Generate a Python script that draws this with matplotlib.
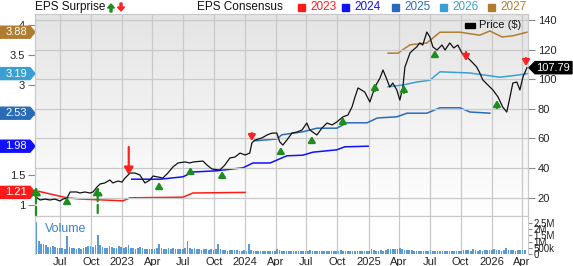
import numpy as np
import pandas as pd
import matplotlib
matplotlib.use("Agg")
import matplotlib.pyplot as plt
import matplotlib.dates as mdates
from matplotlib.patches import Polygon, Rectangle, FancyArrow
from matplotlib.colors import LinearSegmentedColormap
from matplotlib.transforms import blended_transform_factory

plt.rcParams["font.family"] = ["Liberation Sans", "DejaVu Sans"]

# price line ($)
price_dates = ["2022-04-21", "2022-05-03", "2022-05-18", "2022-06-01", "2022-06-16", "2022-07-01",
               "2022-07-10", "2022-07-22", "2022-07-31", "2022-08-20", "2022-08-29", "2022-09-13",
               "2022-09-28", "2022-10-07", "2022-10-19", "2022-10-28", "2022-11-11", "2022-11-26",
               "2022-12-05", "2022-12-20", "2023-01-01", "2023-01-10", "2023-01-25", "2023-02-08",
               "2023-02-23", "2023-03-10", "2023-03-25", "2023-04-03", "2023-04-18", "2023-05-02",
               "2023-05-17", "2023-06-01", "2023-06-16", "2023-07-07", "2023-07-21", "2023-08-01",
               "2023-08-29", "2023-09-10", "2023-09-25", "2023-10-18", "2023-11-02", "2023-11-17",
               "2023-12-02", "2023-12-17", "2024-01-01", "2024-01-15", "2024-01-21", "2024-01-30",
               "2024-02-20", "2024-03-06", "2024-03-21", "2024-04-04", "2024-04-13", "2024-04-22",
               "2024-05-04", "2024-05-19", "2024-06-03", "2024-06-18", "2024-07-02", "2024-07-11",
               "2024-08-01", "2024-08-16", "2024-08-31", "2024-09-15", "2024-09-29", "2024-10-17",
               "2024-11-01", "2024-11-13", "2024-11-22", "2024-12-01", "2024-12-21", "2025-01-05",
               "2025-01-20", "2025-02-04", "2025-02-13", "2025-02-25", "2025-03-05", "2025-03-14",
               "2025-03-26", "2025-04-04", "2025-04-13", "2025-04-19", "2025-05-04", "2025-05-13",
               "2025-05-24", "2025-06-02", "2025-06-11", "2025-06-23", "2025-07-02", "2025-07-11",
               "2025-07-23", "2025-08-07", "2025-08-16", "2025-08-30", "2025-09-11", "2025-09-23",
               "2025-10-05", "2025-10-20", "2025-11-04", "2025-11-18", "2025-11-27", "2025-12-06",
               "2025-12-21", "2026-01-05", "2026-01-20", "2026-02-03", "2026-02-15", "2026-02-24",
               "2026-03-05", "2026-03-17", "2026-03-26", "2026-04-04", "2026-04-16"]
price_vals = [20.4, 18.4, 19.0, 18.4, 19.0, 17.7,
              19.0, 19.7, 23.8, 23.8, 23.1, 23.8,
              23.1, 23.8, 27.2, 29.2, 29.9, 31.9,
              29.9, 31.2, 30.5, 33.2, 36.6, 36.6,
              35.3, 29.9, 31.9, 34.6, 33.9, 33.2,
              36.6, 40.7, 43.4, 44.1, 43.4, 44.1,
              44.7, 42.0, 39.3, 38.6, 42.0, 46.8,
              47.4, 50.1, 48.8, 50.1, 56.9, 58.9,
              60.3, 62.3, 63.6, 63.6, 57.6, 55.5,
              58.9, 63.6, 64.3, 65.7, 70.4, 65.7,
              62.3, 67.0, 70.4, 69.1, 71.1, 74.5,
              75.8, 81.2, 88.0, 94.1, 91.3, 84.6,
              94.7, 100.8, 106.2, 99.5, 94.7, 97.4,
              92.7, 85.9, 94.7, 108.2, 117.7, 119.7,
              121.8, 124.5, 123.1, 131.9, 128.5, 121.8,
              119.7, 123.1, 119.7, 124.5, 121.1, 123.1,
              117.7, 115.0, 111.6, 108.2, 104.2, 99.5,
              96.1, 92.7, 88.0, 81.2, 77.8, 87.3,
              97.4, 98.1, 92.7, 101.5, 107.79]

# EPS consensus per fiscal year
eps23_dates = ["2022-04-27", "2022-07-22", "2022-08-29", "2023-01-04", "2023-01-25", "2023-07-01",
               "2023-07-30", "2024-01-01"]
eps23 = [1.23, 1.12, 1.10, 1.07, 1.12, 1.13, 1.20, 1.21]
eps24_dates = ["2023-01-30", "2023-04-24", "2023-07-01", "2023-07-30", "2023-10-09", "2023-12-26",
               "2024-01-24", "2024-03-15", "2024-05-04", "2024-06-20", "2024-07-20", "2024-09-29",
               "2024-10-23", "2024-12-31"]
eps24 = [1.43, 1.43, 1.47, 1.55, 1.57, 1.62, 1.70, 1.70, 1.82, 1.83, 1.88, 1.92, 1.97, 1.98]
eps25_dates = ["2024-01-30", "2024-04-04", "2024-04-19", "2024-06-20", "2024-08-01", "2024-09-29",
               "2024-10-29", "2024-12-28", "2025-01-27", "2025-03-26", "2025-04-25", "2025-06-23",
               "2025-08-01", "2025-09-29", "2025-10-29", "2025-12-27"]
eps25 = [2.07, 2.10, 2.17, 2.22, 2.28, 2.28, 2.37, 2.37, 2.45, 2.47, 2.53, 2.53, 2.62, 2.62, 2.55, 2.53]
eps26_dates = ["2025-02-28", "2025-04-13", "2025-05-24", "2025-07-02", "2025-08-01", "2025-10-29",
               "2026-01-26", "2026-03-26", "2026-04-16"]
eps26 = [2.97, 3.00, 3.05, 3.08, 3.22, 3.20, 3.13, 3.17, 3.19]
eps27_dates = ["2025-02-28", "2025-03-29", "2025-05-04", "2025-06-23", "2025-08-01", "2025-09-29",
               "2025-11-27", "2025-12-27", "2026-02-01", "2026-03-05", "2026-04-16"]
eps27 = [3.53, 3.53, 3.67, 3.70, 3.88, 3.88, 3.83, 3.90, 3.80, 3.82, 3.88]

years = ["2023", "2024", "2025", "2026", "2027"]
year_colors = ["#ff1a1a", "#1010ff", "#2a6bb8", "#3a9fd2", "#b07c30"]

# EPS surprise arrows: price at arrow tip and at its tail
surprise_dates = ["2022-04-21", "2022-07-22", "2022-10-21", "2023-01-21", "2023-04-21", "2023-07-23",
                  "2023-10-25", "2024-01-21", "2024-04-16", "2024-07-17", "2024-10-17", "2025-01-20",
                  "2025-04-16", "2025-07-17", "2025-10-17", "2026-01-17", "2026-04-13"]
surprise_head = [27.2, 20.4, 27.2, 35.3, 30.5, 40.7, 38.0, 58.2, 54.2, 61.6, 74.5, 97.4,
                 96.1, 119.7, 112.3, 85.9, 108.9]
surprise_tail = [8.2, 16.0, 9.6, 54.2, 25.8, 36.0, 33.2, 63.6, 49.5, 56.9, 69.7, 92.0,
                 90.7, 115.0, 118.4, 80.5, 114.3]

# weekly volume (thousands)
vol_start = "2022-04-22"
volume_k = [2600, 1080, 780, 800, 690, 600, 560, 620, 580, 480,
            520, 450, 380, 1450, 560, 520, 470, 420, 480, 430, 460, 600, 640,
            640, 560, 720, 1500, 700, 580, 470, 520, 620, 560, 470, 520, 680,
            560, 500, 600, 760, 520, 480, 430, 450, 560, 500, 430, 410, 420,
            380, 400, 520, 820, 460, 380, 420, 450, 420, 460, 400, 380, 430,
            420, 450, 1020, 520, 420, 470, 380, 400, 360, 420, 390, 340, 380,
            330, 420, 780, 430, 360, 320, 280, 300, 320, 290, 300, 260, 280,
            300, 280, 800, 330, 280, 250, 260, 270, 250, 240, 230, 250, 260,
            270, 380, 330, 280, 250, 240, 230, 220, 210, 230, 220, 240, 260,
            240, 230, 300, 250, 240, 230, 220, 210, 220, 230, 250, 220, 240,
            230, 220, 330, 240, 220, 210, 230, 240, 220, 230, 260, 240, 230,
            250, 270, 400, 300, 260, 270, 290, 280, 320, 380, 400, 420, 380,
            440, 460, 410, 360, 320, 300, 290, 280, 260, 250, 240, 260, 250,
            260, 300, 280, 250, 240, 230, 250, 240, 230, 260, 250, 240, 270,
            260, 280, 360, 330, 290, 270, 380, 320, 280, 300, 260, 290, 310,
            300, 340, 420, 360, 300, 280, 320, 450, 360, 300, 320, 280, 300,
            320, 360, 300]

quarter_ticks = ["2022-07-01", "2022-10-01", "2023-01-01", "2023-04-01", "2023-07-01", "2023-10-01",
                 "2024-01-01", "2024-04-01", "2024-07-01", "2024-10-01", "2025-01-01", "2025-04-01",
                 "2025-07-01", "2025-10-01", "2026-01-01", "2026-04-01"]
quarter_labels = ["Jul", "Oct", "2023", "Apr", "Jul", "Oct", "2024", "Apr", "Jul", "Oct",
                  "2025", "Apr", "Jul", "Oct", "2026", "Apr"]

W, H = 573, 266
grid_c = "#c9c9c9"
fig = plt.figure(figsize=(W / 100, H / 100), dpi=100)
ax = fig.add_axes([35 / W, 1 - 216 / H, 493 / W, 202 / H])
axv = fig.add_axes([35 / W, 1 - 254 / H, 493 / W, 38 / H], sharex=ax)

# background gradient
cmap = LinearSegmentedColormap.from_list("bg", ["#e4e4e4", "#ffffff"])
ax.imshow(np.linspace(0, 1, 256).reshape(-1, 1), cmap=cmap, extent=[0, 1, 0, 1],
          transform=ax.transAxes, aspect="auto", zorder=0)

x0, x1 = pd.Timestamp("2022-04-18"), pd.Timestamp("2026-04-19")

eps_series = [(eps23_dates, eps23), (eps24_dates, eps24), (eps25_dates, eps25),
              (eps26_dates, eps26), (eps27_dates, eps27)]
for (d, v), c in zip(eps_series, year_colors):
    ax.plot(pd.to_datetime(d), v, color=c, lw=1.1, zorder=3)

ax.set_xlim(x0, x1)
ax.set_ylim(0.8167, 4.1833)
ax.set_yticks([1, 1.5, 2, 2.5, 3, 3.5, 4])
# 2 and 2.5 sit under the badges
ax.set_yticklabels(["1", "1.5", "", "", "3", "3.5", "4"])
ax.tick_params(axis="y", labelsize=8, colors="#888888", labelcolor="#222222", length=5, pad=2)
ax.tick_params(axis="x", labelbottom=False, length=0)
ax.set_xticks(pd.to_datetime(quarter_ticks))
ax.grid(axis="x", color=grid_c, lw=0.9)
for s in ax.spines.values():
    s.set_color(grid_c)

# price axis on the right
ax2 = ax.twinx()
ax2.plot(pd.to_datetime(price_dates), price_vals, color="#111111", lw=0.9, zorder=4)
ax2.set_ylim(7.57, 144.05)
ax2.set_yticks([20, 40, 60, 80, 100, 120, 140])
ax2.tick_params(axis="y", labelsize=8, colors="#888888", labelcolor="#222222", length=5, pad=2)
ax2.grid(axis="y", color=grid_c, lw=0.9)
ax2.set_axisbelow(True)
for s in ax2.spines.values():
    s.set_color(grid_c)

for d, hd, tl in zip(surprise_dates, surprise_head, surprise_tail):
    beat = hd > tl
    big = abs(hd - tl) > 10
    c = "#1e8c1e" if beat else "#ff2020"
    xd = mdates.date2num(pd.Timestamp(d))
    ax2.annotate("", xy=(xd, hd), xytext=(xd, tl),
                 arrowprops=dict(arrowstyle="-|>,head_length=0.5,head_width=0.3", color=c,
                                 lw=1.6, ls="--" if (big and beat) else "-",
                                 mutation_scale=9 if big else 7, shrinkA=0, shrinkB=0),
                 zorder=6)

# price legend
fig.patches.append(Rectangle((465 / W, 1 - 28 / H), 10 / W, 5 / H, transform=fig.transFigure,
                             color="black"))
fig.text(479 / W, 1 - 25.5 / H, "Price ($)", fontsize=8, va="center", color="#111111")

# badges on left
bt = blended_transform_factory(fig.transFigure, ax.transData)
for (d, v), c in zip(eps_series, year_colors):
    val = v[-1]
    pts = [(0, val - 0.1), (30 / W, val - 0.1), (35 / W, val), (30 / W, val + 0.1), (0, val + 0.1)]
    ax.add_patch(Polygon(pts, closed=True, color=c, transform=bt, clip_on=False, zorder=10))
    ax.text(16 / W, val, f"{val:.2f}", transform=bt, color="white", fontsize=8,
            ha="center", va="center", zorder=11, clip_on=False)

# price badge on right
pt = blended_transform_factory(fig.transFigure, ax2.transData)
last = price_vals[-1]
pts = [(529 / W, last), (535 / W, last - 4.1), (572 / W, last - 4.1), (572 / W, last + 4.1),
       (535 / W, last + 4.1)]
ax2.add_patch(Polygon(pts, closed=True, color="black", transform=pt, clip_on=False, zorder=10))
ax2.text(553 / W, last, f"{last:.2f}", transform=pt, color="white", fontsize=8,
         ha="center", va="center", zorder=11, clip_on=False)

# volume panel
vol_dates = pd.date_range(vol_start, periods=len(volume_k), freq="7D")
axv.bar(vol_dates, np.array(volume_k) / 1000, width=5, color="#5b9bd5", zorder=3)
axv.set_ylim(0, 3.06)
axv.yaxis.tick_right()
axv.set_yticks([0, 0.5, 1, 1.5, 2, 2.5])
axv.set_yticklabels(["0", "500k", "1M", "1.5M", "2M", "2.5M"])
axv.tick_params(axis="y", labelsize=7, colors="#888888", labelcolor="#222222", length=3, pad=1)
axv.set_xticks(pd.to_datetime(quarter_ticks))
axv.set_xticklabels(quarter_labels)
axv.tick_params(axis="x", labelsize=8, length=0, pad=2, labelcolor="#222222")
axv.grid(axis="x", color=grid_c, lw=0.9)
axv.set_xlim(x0, x1)
for s in axv.spines.values():
    s.set_color(grid_c)
axv.spines["bottom"].set_visible(False)
axv.text(0.02, 0.66, "Volume", transform=axv.transAxes, color="#3b82c4", fontsize=9, va="center")

# header legend
fig.text(35 / W, 1 - 7 / H, "EPS Surprise", fontsize=8.5, va="center", color="#111111")
fig.patches.append(FancyArrow(111 / W, 1 - 12 / H, 0, 8 / H, width=2 / W,
                              head_width=7 / W, head_length=4 / H, color="#1e8c1e",
                              transform=fig.transFigure, length_includes_head=True))
fig.patches.append(FancyArrow(121 / W, 1 - 3 / H, 0, -8 / H, width=2 / W,
                              head_width=7 / W, head_length=4 / H, color="#ff2020",
                              transform=fig.transFigure, length_includes_head=True))
fig.text(197 / W, 1 - 7 / H, "EPS Consensus", fontsize=8.5, va="center", color="#111111")
sq_x = [298, 342, 392, 440, 488]
for xs, yr, c in zip(sq_x, years, year_colors):
    fig.patches.append(Rectangle((xs / W, 1 - 10.5 / H), 7 / W, 7 / H, transform=fig.transFigure,
                                 color=c))
    fig.text((xs + 12) / W, 1 - 7 / H, yr, fontsize=8.5, va="center", color=c)

fig.savefig("out.png", dpi=100)
